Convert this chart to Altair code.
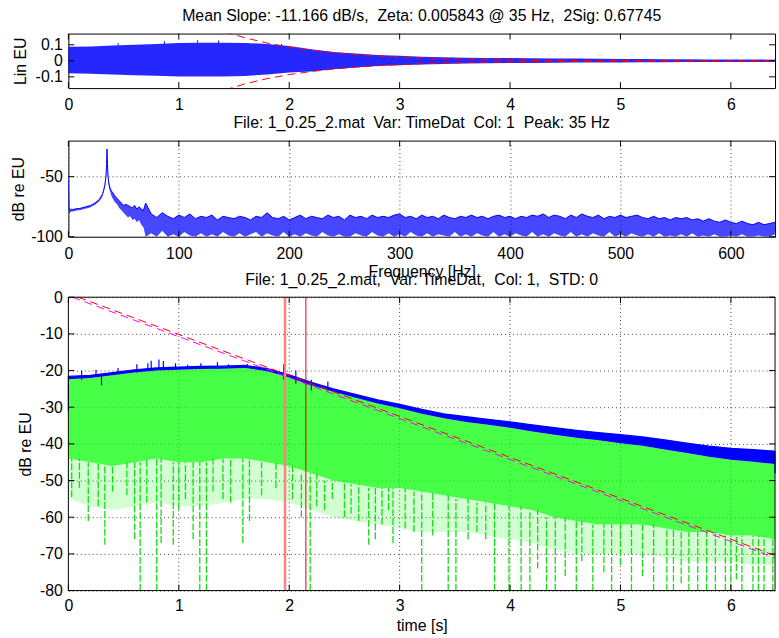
import altair as alt
import pandas as pd

# ---------------- layout / style ----------------
FONT = "Liberation Sans"
FS = 16            # tick labels and axis titles
TFS = 16           # panel titles
W = 713
TOP_H, MID_H = 55, 97
BOT_H, BOT_EXTRA = 296, 8      # decay plot frame height, empty strip above it
TICK = 6
TITLE_GAP = 12.5               # frame top to title baseline

T_MAX = 6.4
F_MAX = 640
LIN_LIM = 0.17
SPEC_MIN, SPEC_MAX = -100, -20
DB_MIN, DB_MAX = -80, 0
DB_TOP = DB_MAX + (DB_MAX - DB_MIN) * BOT_EXTRA / BOT_H

MEAN_SLOPE = -11.166     # dB/s
FIT_DB0_RED = 1.0        # fit line level at t = 0
FIT_DB0_MAG = 0.4
T_MARK_1 = 1.962
T_MARK_2 = 2.151

NB = "\u00a0"
TITLE_TOP = f"Mean Slope: -11.166 dB/s,{NB} Zeta: 0.005843 @ 35 Hz,{NB} 2Sig: 0.67745"
TITLE_MID = f"File: 1_0.25_2.mat{NB} Var: TimeDat{NB} Col: 1{NB} Peak: 35 Hz"
TITLE_BOT = f"File: 1_0.25_2.mat,{NB} Var: TimeDat,{NB} Col: 1,{NB} STD: 0"

time_ticks = [0, 1, 2, 3, 4, 5, 6]
freq_ticks = [0, 100, 200, 300, 400, 500, 600]
lin_ticks = [-0.1, 0, 0.1]
spec_ticks = [-100, -50]
db_ticks = [-80, -70, -60, -50, -40, -30, -20, -10, 0]

# ---------------- time history (linear) ----------------
t_grid = [0.0, 0.2, 0.4, 0.6, 0.8, 1.0, 1.2, 1.4, 1.6, 1.8, 2.0, 2.2, 2.4, 2.6,
          2.8, 3.0, 3.2, 3.4, 3.6, 3.8, 4.0, 4.2, 4.4, 4.6, 4.8, 5.0, 5.2, 5.4,
          5.6, 5.8, 6.0, 6.2, 6.4]
lin_hi = [0.088, 0.090, 0.095, 0.100, 0.105, 0.112, 0.113, 0.113, 0.112, 0.105,
          0.092, 0.073, 0.055, 0.045, 0.036, 0.031, 0.026, 0.022, 0.020, 0.018,
          0.017, 0.016, 0.015, 0.014, 0.013, 0.012, 0.011, 0.010, 0.0095, 0.009,
          0.0085, 0.008, 0.0075]
lin_lo = [-0.077, -0.080, -0.085, -0.090, -0.093, -0.097, -0.098, -0.097, -0.094,
          -0.085, -0.072, -0.066, -0.052, -0.042, -0.033, -0.027, -0.023, -0.019,
          -0.017, -0.015, -0.014, -0.013, -0.012, -0.011, -0.011, -0.010, -0.009,
          -0.009, -0.008, -0.008, -0.007, -0.007, -0.0065]
lin_spike_t = [0.45, 0.87, 1.17, 1.36, 1.93]
lin_spike_hi = [0.110, 0.122, 0.128, 0.127, 0.105]
lin_spike_lo = [0.096, 0.106, 0.112, 0.112, 0.094]

# ---------------- spectrum ----------------
spec_f_low = [0, 0.5, 1, 2, 3, 4, 5, 6, 8, 10, 12, 14, 16, 18, 20, 22, 24, 26, 28,
              30, 31, 32, 33, 34, 34.6, 35, 35.4, 36, 37, 38, 39, 40, 42, 44, 46,
              48, 50, 52, 54, 56, 58, 60, 62, 64, 66, 68, 70]
spec_hi_low = [-52, -76, -77, -77.5, -77, -77.5, -77, -77, -76.5, -76.5, -76, -75.5,
               -75, -74.5, -74, -73, -72, -70.5, -69, -66, -64, -61, -57, -50, -40,
               -27, -40, -51, -57, -60, -62, -63, -66, -68, -70, -72, -74, -73, -74,
               -75, -76, -74, -77, -75, -77, -78, -72]
spec_lo_low = [-56, -81, -80, -79.5, -79, -79, -78.5, -78.5, -78, -78, -77.5, -77,
               -76.5, -76, -75.5, -74.5, -73.5, -72, -70.5, -68, -66, -63, -59, -53,
               -46, -36, -46, -54, -60, -63, -66, -68, -71, -73, -76, -78, -80, -82,
               -84, -83, -86, -85, -88, -86, -90, -92, -100]
spec_f_high = list(range(75, 645, 5))
spec_hi_high = [-81, -84, -80, -83, -85, -82, -84, -81, -85, -83,
                -84, -82, -86, -83, -84, -85, -83, -84, -86, -83,
                -84, -80, -84, -85, -83, -86, -84, -82, -85, -83,
                -84, -85, -82, -84, -83, -86, -82, -84, -83, -85,
                -82, -84, -83, -84, -82, -81, -84, -83, -85, -82,
                -84, -83, -85, -82, -84, -85, -83, -84, -82, -84,
                -83, -85, -83, -82, -84, -83, -85, -83, -84, -82,
                -83, -81, -84, -82, -83, -85, -82, -84, -81, -83,
                -84, -82, -85, -83, -84, -82, -84, -83, -82, -84,
                -85, -83, -85, -84, -86, -84, -85, -84, -86, -85,
                -87, -85, -87, -88, -86, -88, -89, -87, -89, -90,
                -88, -90, -89, -88]
spec_lo_high = [-97, -100, -95, -100, -98, -100, -96, -99, -100, -97,
                -100, -98, -100, -96, -99, -100, -97, -100, -98, -96,
                -100, -97, -99, -100, -96, -100, -98, -100, -97, -99,
                -100, -96, -99, -100, -98, -100, -100, -97, -99, -100,
                -96, -99, -100, -97, -100, -98, -100, -96, -99, -100,
                -97, -100, -98, -99, -100, -96, -100, -98, -100, -97,
                -99, -100, -96, -100, -98, -100, -97, -99, -100, -96,
                -100, -98, -100, -97, -99, -100, -96, -100, -98, -100,
                -97, -99, -100, -96, -100, -98, -100, -97, -99, -100,
                -98, -100, -97, -100, -99, -100, -98, -100, -97, -100,
                -99, -100, -98, -100, -100, -99, -100, -98, -100, -100,
                -99, -100, -100, -98]

# ---------------- decay (dB) ----------------
env_hi = [-21.6, -21.3, -20.6, -19.8, -19.3, -19.1, -18.9, -18.8, -18.6, -19.5,
          -21.2, -23.2, -25.0, -26.5, -28.0, -29.2, -30.6, -31.8, -32.6, -33.3,
          -34.0, -34.8, -35.6, -36.3, -36.9, -37.5, -38.1, -38.9, -39.8, -40.6,
          -41.2, -41.6, -42.0]
env_lo = [-22.4, -22.0, -21.3, -20.5, -20.0, -19.8, -19.6, -19.5, -19.3, -20.2,
          -21.9, -24.0, -25.8, -27.4, -29.0, -30.3, -31.8, -33.0, -34.0, -34.8,
          -35.6, -36.6, -37.5, -38.3, -39.0, -39.8, -40.5, -41.5, -42.5, -43.5,
          -44.3, -44.9, -45.5]
dense_floor = [-44, -45, -46, -45, -44, -45, -45, -44, -44, -45, -46, -48, -50, -51,
               -52, -52, -53, -54, -55, -56, -57, -58, -60, -61, -62, -62, -62, -63,
               -64, -64, -65, -65, -66]
sparse_floor = [-55, -57, -58, -57, -56, -57, -57, -56, -55, -55, -56, -58, -60, -61,
                -62, -63, -64, -64, -64, -65, -66, -67, -69, -70, -70, -70, -70, -71,
                -72, -72, -72, -73, -73]

blue_spk_t = [0.0, 0.12, 0.25, 0.30, 0.45, 0.62, 0.72, 0.75, 0.82, 0.86, 0.97, 1.08,
              1.20, 1.35, 1.45, 1.62, 1.95, 2.06, 2.20, 2.35, 6.40]
blue_spk_hi = [-21.6, -20.0, -19.8, -21.0, -19.3, -18.3, -18.0, -17.3, -17.0, -17.4,
               -18.0, -18.4, -18.0, -17.7, -18.3, -18.2, -18.3, -20.0, -22.5, -23.0,
               -42.0]
blue_spk_lo = [-31.0, -22.5, -21.5, -24.0, -21.0, -20.5, -20.0, -19.8, -19.5, -19.5,
               -19.5, -19.5, -19.5, -19.5, -19.2, -19.2, -22.5, -23.5, -25.4, -25.5,
               -48.0]

green_spk_t = [0.03, 0.10, 0.18, 0.27, 0.33, 0.40, 0.53, 0.60, 0.65, 0.71, 0.80, 0.84,
               0.95, 1.00, 1.06, 1.13, 1.19, 1.25, 1.31, 1.40, 1.47, 1.58, 1.64, 1.75,
               1.88, 2.03, 2.11, 2.19, 2.25, 2.32, 2.39, 2.50, 2.56, 2.63, 2.72, 2.78,
               2.84, 2.90, 2.94, 3.05, 3.13, 3.20, 3.30, 3.44, 3.51, 3.62, 3.70, 3.78,
               3.86, 3.99, 4.10, 4.18, 4.25, 4.33, 4.41, 4.50, 4.60, 4.65, 4.75, 4.85,
               4.92, 5.00, 5.10, 5.20, 5.30, 5.42, 5.48, 5.55, 5.62, 5.70, 5.78, 5.86,
               5.95, 6.00, 6.05, 6.10, 6.20, 6.25, 6.30, 6.38]
green_spk_bot = [-54.5, -52, -61, -57, -67.5, -53, -54, -66, -80, -56, -80, -67,
                 -67.5, -58, -55, -66, -80, -80, -53, -55, -56, -67, -61, -54,
                 -52, -55, -60, -80, -57, -58, -55, -60, -59, -61, -67.5, -66,
                 -62, -58, -67, -63, -64, -80, -65, -80, -80, -66, -64, -66,
                 -80, -80, -80, -80, -74, -80, -80, -76, -80, -72, -80, -75,
                 -80, -73, -80, -76, -80, -80, -80, -78, -80, -80, -80, -80,
                 -80, -80, -77, -80, -80, -80, -80, -80]

# ---------------- tables ----------------
lin_df = pd.DataFrame({"t": t_grid, "hi": lin_hi, "lo": lin_lo})
lin_spk_df = pd.DataFrame({"t": lin_spike_t, "hi": lin_spike_hi, "lo": lin_spike_lo})

fit_t = [t for t in t_grid if t >= 1.2]
fit_amp = [10 ** ((FIT_DB0_RED + MEAN_SLOPE * t) / 20) for t in fit_t]
fit_up_df = pd.DataFrame({"t": fit_t, "a": fit_amp})
fit_dn_df = pd.DataFrame({"t": fit_t, "a": [-a for a in fit_amp]})

spec_df = pd.DataFrame({"f": spec_f_low + spec_f_high,
                        "hi": spec_hi_low + spec_hi_high,
                        "lo": spec_lo_low + spec_lo_high})

dec_df = pd.DataFrame({"t": t_grid, "hi": env_hi, "lo": env_lo,
                       "dense": dense_floor, "sparse": sparse_floor})
blue_spk_df = pd.DataFrame({"t": blue_spk_t, "hi": blue_spk_hi, "lo": blue_spk_lo})
green_top = [dense_floor[min(range(len(t_grid)), key=lambda i: abs(t_grid[i] - t))]
             for t in green_spk_t]
green_spk_df = pd.DataFrame({"t": green_spk_t, "top": green_top, "bot": green_spk_bot})


def fit_line(db0):
    t0 = max(0.0, (db0 - DB_MAX) / -MEAN_SLOPE)   # start where the line enters the frame
    return pd.DataFrame({"t": [t0, T_MAX],
                         "db": [db0 + MEAN_SLOPE * t0, db0 + MEAN_SLOPE * T_MAX]})


marks_df = pd.DataFrame({"t": [T_MARK_1, T_MARK_2], "lo": [DB_MIN, DB_MIN], "hi": [DB_MAX, DB_MAX]})

# ---------------- scales / axes ----------------
xs_t = alt.Scale(domain=[0, T_MAX], nice=False, zero=False)
xs_f = alt.Scale(domain=[0, F_MAX], nice=False, zero=False)
ys_lin = alt.Scale(domain=[-LIN_LIM, LIN_LIM], nice=False, zero=False)
ys_spec = alt.Scale(domain=[SPEC_MIN, SPEC_MAX], nice=False, zero=False)
ys_db = alt.Scale(domain=[DB_MIN, DB_TOP], nice=False, zero=False)

AX = dict(labelFont=FONT, labelFontSize=FS, labelColor="black", ticks=False, domain=False,
          labelFlush=False, labelOverlap=False, tickCount=100,
          titleFont=FONT, titleFontSize=FS,
          titleFontWeight="normal", titleColor="black", labelExpr="'' + datum.value",
          gridColor="#444444", gridDash=[1, 3], gridWidth=1)


def xaxis(values, pad, grid, title=None, title_pad=0):
    return alt.Axis(values=values, labelPadding=pad, grid=grid, title=title,
                    titlePadding=title_pad, **AX)


def yaxis(values, title, tx, ty, grid):
    return alt.Axis(values=values, labelPadding=6, grid=grid, title=title,
                    titleX=tx, titleY=ty, **AX)


def ticks(xs, xvals, ys, yvals, y_top_px, y_bot_px):
    xdf = pd.DataFrame({"v": xvals})
    ydf = pd.DataFrame({"v": yvals})
    base_x = alt.Chart(xdf).mark_rule(color="black", strokeWidth=1)
    base_y = alt.Chart(ydf).mark_rule(color="black", strokeWidth=1)
    return [
        base_x.encode(x=alt.X("v:Q", scale=xs), y=alt.value(y_top_px), y2=alt.value(y_top_px + TICK)),
        base_x.encode(x=alt.X("v:Q", scale=xs), y=alt.value(y_bot_px), y2=alt.value(y_bot_px - TICK)),
        base_y.encode(y=alt.Y("v:Q", scale=ys), x=alt.value(0), x2=alt.value(TICK)),
        base_y.encode(y=alt.Y("v:Q", scale=ys), x=alt.value(W), x2=alt.value(W - TICK)),
    ]


def heading(text, frame_top_px):
    """Panel title centred over the frame, baseline TITLE_GAP above it."""
    return alt.Chart(pd.DataFrame({"label": [text]})).mark_text(
        font=FONT, fontSize=TFS, color="black", align="center", baseline="alphabetic"
    ).encode(text="label:N", x=alt.value(W / 2), y=alt.value(frame_top_px - TITLE_GAP))


BLUE = "#0000ff"
GREEN = "#00ff00"

# ---------------- panel 1: linear time history ----------------
top_layers = [
    alt.Chart(lin_df).mark_area(color=BLUE, opacity=0.85).encode(
        x=alt.X("t:Q", scale=xs_t, axis=xaxis(time_ticks, 9, False)),
        y=alt.Y("lo:Q", scale=ys_lin, axis=yaxis(lin_ticks, "Lin EU", -40, TOP_H / 2, False)),
        y2="hi:Q"),
    alt.Chart(lin_spk_df).mark_rule(color=BLUE, strokeWidth=1).encode(
        x=alt.X("t:Q", scale=xs_t), y=alt.Y("lo:Q", scale=ys_lin), y2="hi:Q"),
    alt.Chart(fit_up_df).mark_line(color="#ff0000", strokeWidth=1, strokeDash=[8, 5], clip=True).encode(
        x=alt.X("t:Q", scale=xs_t), y=alt.Y("a:Q", scale=ys_lin)),
    alt.Chart(fit_dn_df).mark_line(color="#ff0000", strokeWidth=1, strokeDash=[8, 5], clip=True).encode(
        x=alt.X("t:Q", scale=xs_t), y=alt.Y("a:Q", scale=ys_lin)),
    heading(TITLE_TOP, 0),
] + ticks(xs_t, time_ticks, ys_lin, lin_ticks, 0, TOP_H)

top = alt.layer(*top_layers).properties(width=W, height=TOP_H)

# ---------------- panel 2: spectrum ----------------
mid_layers = [
    alt.Chart(spec_df).mark_area(color=BLUE, opacity=0.72, clip=True).encode(
        x=alt.X("f:Q", scale=xs_f, axis=xaxis(freq_ticks, 9, True, "Frequency [Hz]", 2)),
        y=alt.Y("lo:Q", scale=ys_spec, axis=yaxis(spec_ticks, "dB re EU", -42, MID_H / 2, True)),
        y2="hi:Q"),
    alt.Chart(spec_df).mark_line(color=BLUE, strokeWidth=1, clip=True).encode(
        x=alt.X("f:Q", scale=xs_f), y=alt.Y("hi:Q", scale=ys_spec)),
    heading(TITLE_MID, 0),
] + ticks(xs_f, freq_ticks, ys_spec, spec_ticks, 0, MID_H)

mid = alt.layer(*mid_layers).properties(width=W, height=MID_H)

# ---------------- panel 3: decay in dB ----------------
grid_df = pd.DataFrame({"t": time_ticks[1:], "lo": [DB_MIN] * 6, "hi": [DB_MAX] * 6})
frame_h = pd.DataFrame({"y": [DB_MIN, DB_MAX], "x0": [0, 0], "x1": [T_MAX, T_MAX]})
frame_v = pd.DataFrame({"x": [0, T_MAX], "y0": [DB_MIN, DB_MIN], "y1": [DB_MAX, DB_MAX]})

bot_layers = [
    alt.Chart(grid_df).mark_rule(color="#444444", strokeDash=[1, 3], strokeWidth=1).encode(
        x=alt.X("t:Q", scale=xs_t), y=alt.Y("lo:Q", scale=ys_db), y2="hi:Q"),
    alt.Chart(dec_df).mark_area(color=GREEN, opacity=0.18).encode(
        x=alt.X("t:Q", scale=xs_t, axis=xaxis(time_ticks, 7, False, "time [s]", 4)),
        y=alt.Y("sparse:Q", scale=ys_db,
                axis=yaxis(db_ticks, "dB re EU", -35, BOT_EXTRA + BOT_H / 2, True)),
        y2="dense:Q"),
    alt.Chart(dec_df).mark_area(color=GREEN, opacity=0.72).encode(
        x=alt.X("t:Q", scale=xs_t), y=alt.Y("dense:Q", scale=ys_db), y2="lo:Q"),
    alt.Chart(green_spk_df).mark_rule(color="#10e010", strokeWidth=1.3, strokeDash=[7, 2]).encode(
        x=alt.X("t:Q", scale=xs_t), y=alt.Y("bot:Q", scale=ys_db), y2="top:Q"),
    alt.Chart(dec_df).mark_area(color=BLUE).encode(
        x=alt.X("t:Q", scale=xs_t), y=alt.Y("lo:Q", scale=ys_db), y2="hi:Q"),
    alt.Chart(dec_df).mark_line(color=BLUE, strokeWidth=1.3).encode(
        x=alt.X("t:Q", scale=xs_t), y=alt.Y("hi:Q", scale=ys_db)),
    alt.Chart(blue_spk_df).mark_rule(color=BLUE, strokeWidth=1.2).encode(
        x=alt.X("t:Q", scale=xs_t), y=alt.Y("lo:Q", scale=ys_db), y2="hi:Q"),
    alt.Chart(fit_line(FIT_DB0_MAG)).mark_line(color="#ff00ff", strokeWidth=1, strokeDash=[8, 5]).encode(
        x=alt.X("t:Q", scale=xs_t), y=alt.Y("db:Q", scale=ys_db)),
    alt.Chart(fit_line(FIT_DB0_RED)).mark_line(color="#ff0000", strokeWidth=1, strokeDash=[8, 5]).encode(
        x=alt.X("t:Q", scale=xs_t), y=alt.Y("db:Q", scale=ys_db)),
    alt.Chart(marks_df.iloc[[0]]).mark_rule(color="#ff8080", strokeWidth=2.5).encode(
        x=alt.X("t:Q", scale=xs_t), y=alt.Y("lo:Q", scale=ys_db), y2="hi:Q"),
    alt.Chart(marks_df.iloc[[1]]).mark_rule(color="#e00000", strokeWidth=1).encode(
        x=alt.X("t:Q", scale=xs_t), y=alt.Y("lo:Q", scale=ys_db), y2="hi:Q"),
    alt.Chart(frame_h).mark_rule(color="black", strokeWidth=1).encode(
        x=alt.X("x0:Q", scale=xs_t), x2="x1:Q", y=alt.Y("y:Q", scale=ys_db)),
    alt.Chart(frame_v).mark_rule(color="black", strokeWidth=1).encode(
        x=alt.X("x:Q", scale=xs_t), y=alt.Y("y0:Q", scale=ys_db), y2="y1:Q"),
    heading(TITLE_BOT, BOT_EXTRA),
] + ticks(xs_t, time_ticks, ys_db, db_ticks, BOT_EXTRA, BOT_EXTRA + BOT_H)

bot = alt.layer(*bot_layers).properties(
    width=W, height=BOT_EXTRA + BOT_H,
    view=alt.ViewBackground(stroke="transparent"))

chart = alt.vconcat(top, mid, bot, spacing=53, bounds="flush").properties(
    padding={"left": 10, "top": 5, "right": 0, "bottom": 4}, background="white"
).configure_view(stroke="black", strokeWidth=1)

chart.save("out.html", embed_options={"renderer": "svg", "actions": False})
